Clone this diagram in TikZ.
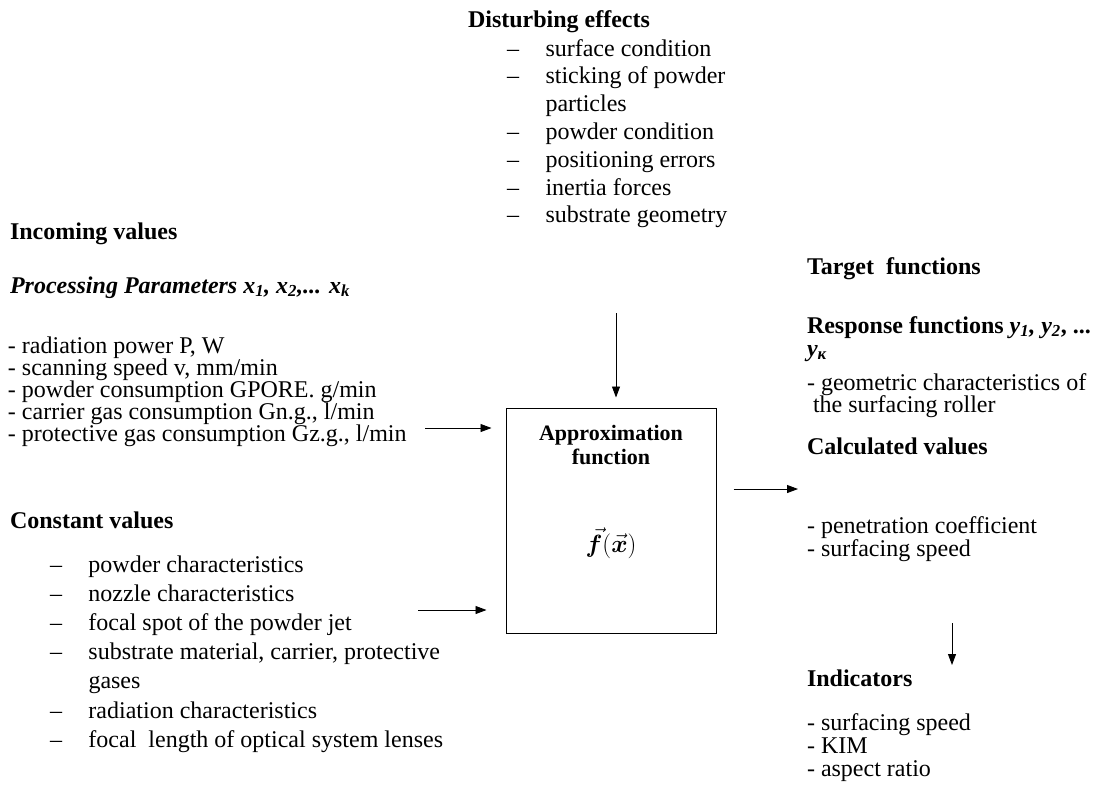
\documentclass[tikz,border=0pt]{standalone}
\usepackage{amsmath,bm}
\usepackage{fontspec}
\setmainfont{Liberation Serif}
\usetikzlibrary{arrows.meta}
\newcommand{\mylines}[2]{\vtop{\baselineskip=#1\lineskiplimit=-100pt\lineskip=0pt\relax #2}}
\newcommand{\dashitem}[1]{\hbox{\makebox[38.5pt][l]{–}#1}}
\newcommand{\contitem}[1]{\hbox{\hspace*{38.5pt}#1}}
\begin{document}
\begin{tikzpicture}[x=1pt,y=-1pt,
  txt/.style={anchor=base west, inner sep=0pt, outer sep=0pt, font=\fontsize{24}{22}\selectfont},
  hdr/.style={txt, font=\fontsize{24}{22}\selectfont\bfseries},
  arr/.style={-{Triangle[length=11pt,width=8pt]}, line width=0.9pt},
  boxstyle/.style={draw, line width=1pt, minimum width=210pt, minimum height=225pt, inner sep=0pt}]
\useasboundingbox (0,0) rectangle (1097,796);

% Disturbing effects
\node[hdr] (dh) at (468,27) {Disturbing effects};
\node[txt] (dl) at (507,56) {\mylines{27.8pt}{%
  \dashitem{surface condition}
  \dashitem{sticking of powder}
  \contitem{particles}
  \dashitem{powder condition}
  \dashitem{positioning errors}
  \dashitem{inertia forces}
  \dashitem{substrate geometry}}};

% Incoming values
\node[hdr] (ih) at (10,239) {Incoming values};
\node[hdr] (ph) at (10,293) {\textit{Processing Parameters x\textsubscript{1}, x\textsubscript{2},... x\textsubscript{k}}};
\node[txt] (pl) at (8,353) {\mylines{22pt}{%
  \hbox{- radiation power P, W}
  \hbox{- scanning speed v, mm/min}
  \hbox{- powder consumption GPORE. g/min}
  \hbox{- carrier gas consumption Gn.g., l/min}
  \hbox{- protective gas consumption Gz.g., l/min}}};

% Constant values
\node[hdr] (ch) at (10,528) {Constant values};
\node[txt] (cl) at (50,572) {\mylines{29.2pt}{%
  \dashitem{powder characteristics}
  \dashitem{nozzle characteristics}
  \dashitem{focal spot of the powder jet}
  \dashitem{substrate material, carrier, protective}
  \contitem{gases}
  \dashitem{radiation characteristics}
  \dashitem{focal\ \ length of optical system lenses}}};

% Box
\node[boxstyle] (box) at (611,520.5) {};
\node[anchor=base, inner sep=0pt, font=\fontsize{22}{24}\selectfont\bfseries] (bt) at (611,440) {\mylines{24pt}{%
  \hbox to 0pt{\hss Approximation\hss}
  \hbox to 0pt{\hss function\hss}}};
\node[inner sep=0pt, font=\fontsize{24}{26}\selectfont] (bf) at (611,543) {$\vec{\bm f}(\vec{\bm x})$};

% Right column
\node[hdr] (th) at (807,274) {Target\ \ functions};
\node[hdr] (rh) at (807,333) {\mylines{23pt}{%
  \hbox{Response functions \textit{y\textsubscript{1}, y\textsubscript{2}}, ...}
  \hbox{\textit{y\textsubscript{к}}}}};
\node[txt] (rl) at (807,390) {\mylines{22pt}{%
  \hbox{- geometric characteristics of}
  \hbox{\hspace*{6pt}the surfacing roller}}};
\node[hdr] (kh) at (807,454) {Calculated values};
\node[txt] (kl) at (807,533) {\mylines{23pt}{%
  \hbox{- penetration coefficient}
  \hbox{- surfacing speed}}};
\node[hdr] (nh) at (807,686) {Indicators};
\node[txt] (nl) at (807,730) {\mylines{23pt}{%
  \hbox{- surfacing speed}
  \hbox{- KIM}
  \hbox{- aspect ratio}}};

% Connectors
\coordinate (dtop) at (616,313);
\draw[arr] (dtop) -- ([xshift=5pt,yshift=10pt]box.north);
\coordinate (i1) at (425,428);
\draw[arr, shorten >=14pt] (i1) -- (i1 -| box.west);
\coordinate (i2) at (418,610);
\draw[arr, shorten >=19pt] (i2) -- (i2 -| box.west);
\coordinate (o1) at (798,489);
\draw[arr, shorten <=17pt] (box.east |- o1) -- (o1);
\coordinate (d1) at (952,623);
\coordinate (d2) at (952,665);
\draw[arr] (d1) -- (d2);
\end{tikzpicture}
\end{document}
